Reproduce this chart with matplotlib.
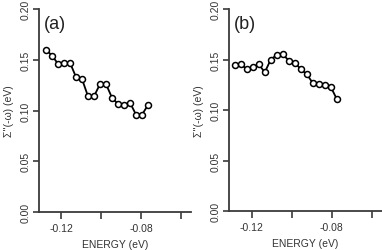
import matplotlib
matplotlib.use("Agg")
import matplotlib.pyplot as plt
import numpy as np

plt.rcParams['font.family'] = ['Liberation Sans', 'DejaVu Sans']

energy_a = [-0.1275, -0.1245, -0.1215, -0.1185, -0.1155, -0.1125, -0.1095, -0.1065, -0.1035,
            -0.1005, -0.0975, -0.0945, -0.0915, -0.0885, -0.0855, -0.0825, -0.0795, -0.0765]
sigma_a = [0.160, 0.154, 0.146, 0.1465, 0.147, 0.133, 0.131, 0.114, 0.114,
           0.126, 0.126, 0.1126, 0.1064, 0.1057, 0.1077, 0.0959, 0.0959, 0.1054]

energy_b = [-0.1285, -0.1255, -0.1225, -0.1195, -0.1165, -0.1135, -0.1105, -0.1075, -0.1045,
            -0.1015, -0.0985, -0.0955, -0.0925, -0.0895, -0.0865, -0.0835, -0.0805, -0.0775]
sigma_b = [0.1446, 0.1453, 0.1406, 0.1426, 0.1453, 0.1373, 0.150, 0.1546, 0.155,
           0.149, 0.147, 0.1403, 0.1353, 0.1266, 0.1253, 0.125, 0.1226, 0.1106]

xticks = [-0.12, -0.10, -0.08, -0.06]
xticklabels = ['-0.12', '', '-0.08', '']
yticks = [0.00, 0.05, 0.10, 0.15, 0.20]
yticklabels = ['0.00', '0.05', '0.10', '0.15', '0.20']
panel_labels = ['(a)', '(b)']
xlabel = 'ENERGY (eV)'
ylabel = "Σ''(-ω) (eV)"

W, H = 382, 251
fig = plt.figure(figsize=(W / 100, H / 100), dpi=100)

axes_px = [(39, 191, 213, 10), (229, 382, 212, 10)]
data = [(energy_a, sigma_a), (energy_b, sigma_b)]
xlims = [(-0.131, -0.055), (-0.1285 - (234.7 - 229) / 2000, -0.12 + (382 - 252) / 2000)]

col = '#3a3a3a'
for i, ((l, r, b, t), (x, y)) in enumerate(zip(axes_px, data)):
    ax = fig.add_axes([l / W, 1 - b / H, (r - l) / W, (b - t) / H])
    ax.plot(x, y, '-o', color='black', lw=1.3, ms=4.3, mfc='white', mec='black', mew=1.1,
            clip_on=False, zorder=3)
    ax.set_xlim(*xlims[i])
    ax.set_ylim(0, 0.20)
    ax.set_xticks(xticks)
    ax.set_xticklabels(xticklabels)
    ax.set_yticks(yticks)
    ax.set_yticklabels(yticklabels, rotation=90, va='center')
    for s in ['top', 'right']:
        ax.spines[s].set_visible(False)
    for s in ['left', 'bottom']:
        ax.spines[s].set_color(col)
        ax.spines[s].set_linewidth(1.3)
    ax.tick_params(axis='x', direction='out', length=5, width=1.2, color=col,
                   labelsize=7.5, labelcolor='#333333', pad=3)
    ax.tick_params(axis='y', direction='out', length=4, width=1.2, color=col,
                   labelsize=7.5, labelcolor='#333333', pad=2)
    ax.set_xlabel(xlabel, fontsize=7.5, color='#333333', labelpad=4.5)
    ax.set_ylabel(ylabel, fontsize=7.5, color='#333333', labelpad=5)
    ax.text(0.035, 0.93, panel_labels[i], transform=ax.transAxes, fontsize=13,
            ha='left', va='center', color='#222222')

fig.savefig('out.png', dpi=100)
